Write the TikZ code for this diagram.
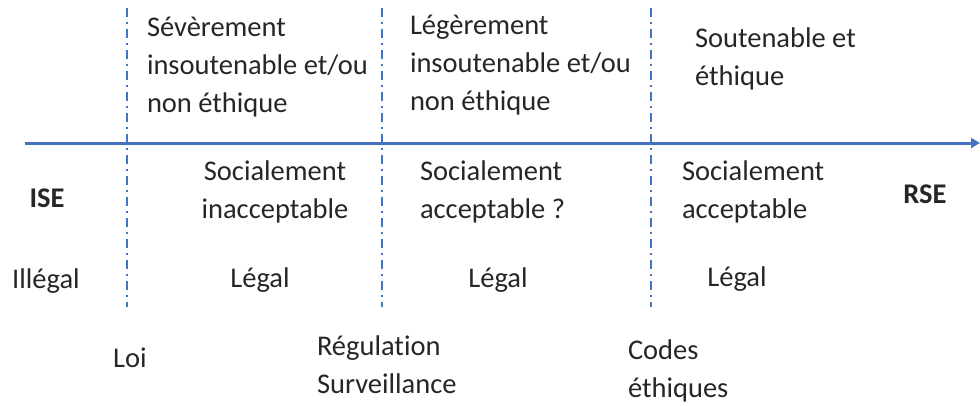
\documentclass[tikz,border=0pt]{standalone}
\usepackage{fontspec}
\setmainfont[Ligatures=NoCommon]{Carlito}
\usetikzlibrary{arrows.meta}
\definecolor{axisblue}{HTML}{4472C4}
\definecolor{txt}{HTML}{262626}
\begin{document}
\begin{tikzpicture}[x=1pt,y=-1pt,
  lbl/.style={inner sep=0pt,outer sep=0pt,text=txt,align=left,font=\fontsize{28.5}{38}\selectfont},
  bold/.style={lbl,font=\fontsize{28.5}{38}\selectfont\bfseries},
  sep/.style={axisblue,line width=1.4pt,dash pattern=on 9pt off 4.5pt on 2.5pt off 5pt},
  axis/.style={axisblue,line width=3pt,-{Triangle[length=9pt,width=10pt]}}]
\useasboundingbox (0,0) rectangle (980,405);
% separators
\coordinate (s1t) at (127,8);   \coordinate (s1b) at (127,307);
\coordinate (s2t) at (382,8);   \coordinate (s2b) at (382,307);
\coordinate (s3t) at (651,8);   \coordinate (s3b) at (651,307);
\draw[sep] (s1t) -- (s1b);
\draw[sep] (s2t) -- (s2b);
\draw[sep] (s3t) -- (s3b);
% axis
\coordinate (ax0) at (25,143);
\coordinate (ax1) at (980,143);
\draw[axis] (ax0) -- (ax1);
% top labels (base anchor = last line baseline)
\node[lbl,anchor=base west] (t1) at (147,112) {Sévèrement\\insoutenable et/ou\\non éthique};
\node[lbl,anchor=base west] (t2) at (410,110) {Légèrement\\insoutenable et/ou\\non éthique};
\node[lbl,anchor=base west] (t3) at (695,85) {Soutenable et\\éthique};
% below axis
\node[lbl,anchor=base,align=center] (b1) at (275,218) {Socialement\\inacceptable};
\node[lbl,anchor=base west] (b2) at (420,218) {Socialement\\acceptable ?};
\node[lbl,anchor=base west] (b3) at (682,218) {Socialement\\acceptable};
\node[bold,anchor=base] (ise) at (47,207) {ISE};
\node[bold,anchor=base] (rse) at (925,203) {RSE};
% legal line
\node[lbl,anchor=base] (il) at (46,288) {Illégal};
\node[lbl,anchor=base] (l1) at (260,287) {Légal};
\node[lbl,anchor=base] (l2) at (498,287) {Légal};
\node[lbl,anchor=base] (l3) at (737,286) {Légal};
% bottom
\node[lbl,anchor=base] (loi) at (130,367) {Loi};
\node[lbl,anchor=base west] (reg) at (317,393) {Régulation\\Surveillance};
\node[lbl,anchor=base west] (cod) at (628,397) {Codes\\éthiques};
\end{tikzpicture}
\end{document}
